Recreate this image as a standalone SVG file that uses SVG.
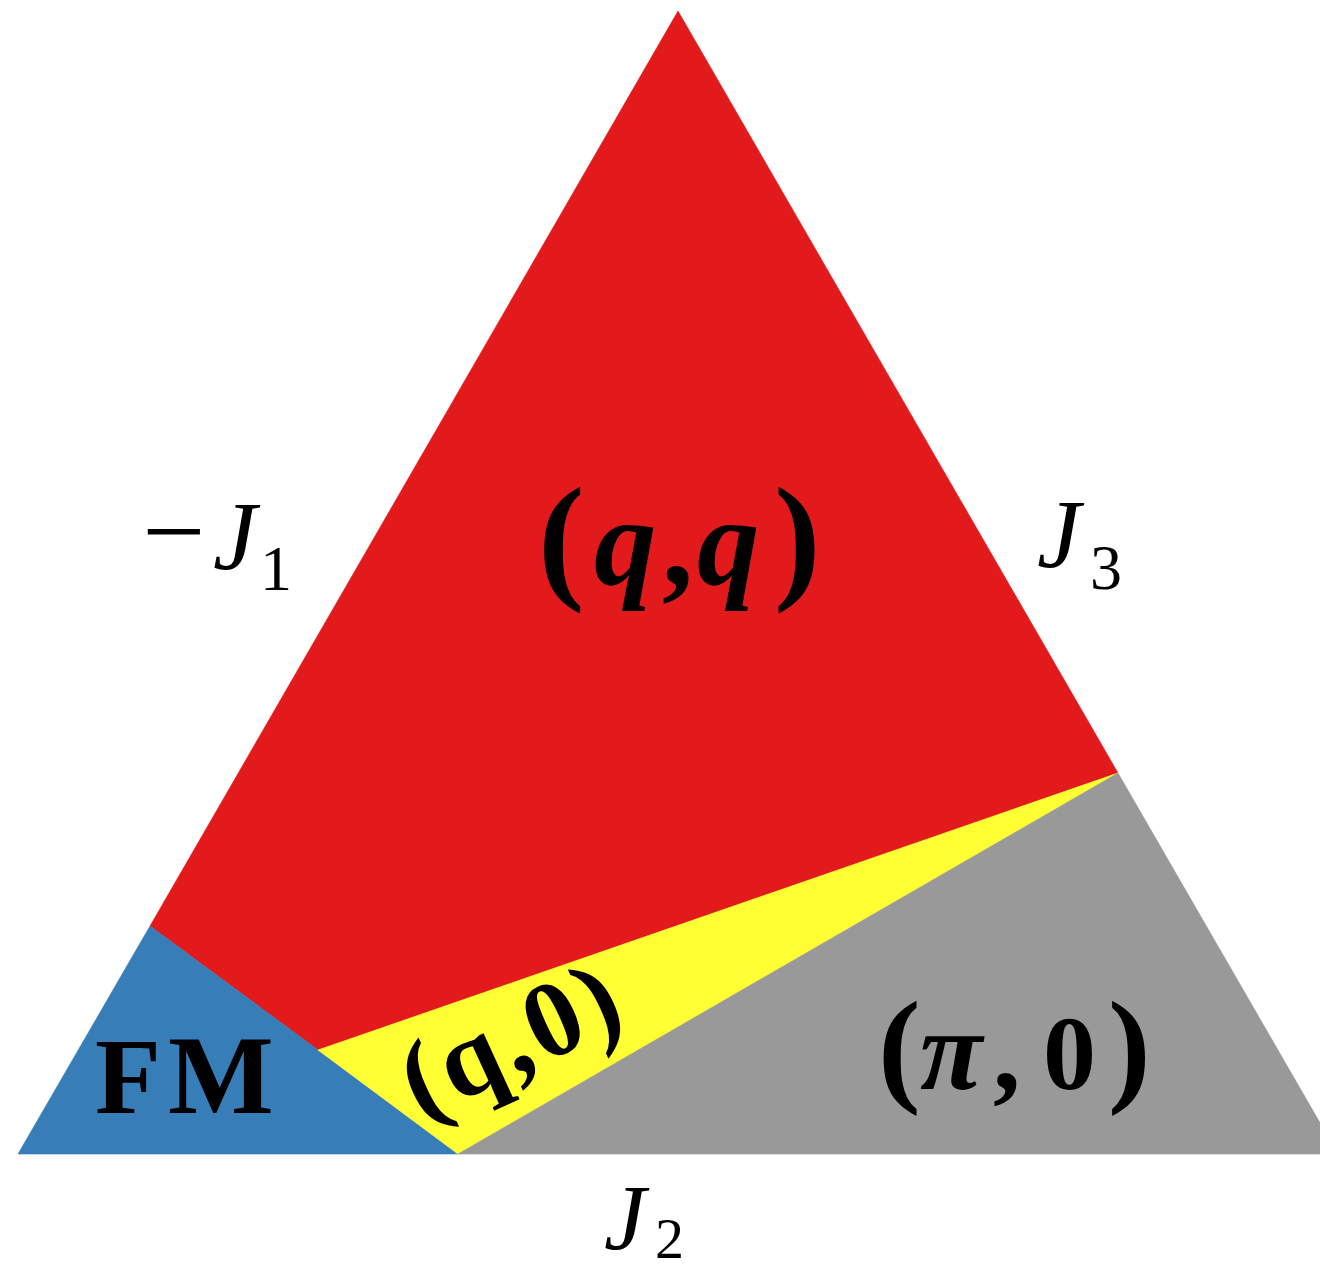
<svg xmlns="http://www.w3.org/2000/svg" width="1320" height="1272" viewBox="0 0 1320 1272">
<style>
.reg{stroke-width:0.6;stroke-linejoin:round}
.lbl{font-family:"Liberation Serif","DejaVu Serif",serif;fill:#000}
.b{font-weight:bold}
.i{font-style:italic}
</style>
<rect width="1320" height="1272" fill="#ffffff"/>
<g id="regions">
<g id="region-qq"><polygon class="reg" points="678,11 1118,773 318,1050 150,926" fill="#e31a1c" stroke="#e31a1c"/></g>
<g id="region-fm"><polygon class="reg" points="150,926 318,1050 458,1154 18,1154" fill="#377eb8" stroke="#377eb8"/></g>
<g id="region-q0"><polygon class="reg" points="318,1050 1118,773 458,1154" fill="#ffff33" stroke="#ffff33"/></g>
<g id="region-pi0"><polygon class="reg" points="458,1154 1118,773 1338,1154" fill="#999999" stroke="#999999"/></g>
</g>
<g id="connectors"></g>
<g id="labels">
<g id="label-qq"><text class="lbl b" y="584"><tspan x="538" font-size="140">(</tspan><tspan x="594" class="i" font-size="125">q</tspan><tspan x="662" font-size="125">,</tspan><tspan x="697" class="i" font-size="125">q</tspan><tspan x="774" font-size="140">)</tspan></text></g>
<g id="label-fm"><text class="lbl b" y="1113" font-size="108"><tspan x="95">F</tspan><tspan x="168" font-size="112">M</tspan></text></g>
<g id="label-pi0"><text class="lbl b" y="1089"><tspan x="878" font-size="128">(</tspan><tspan x="920" class="i" font-size="114">π</tspan><tspan x="993" font-size="110">,</tspan><tspan x="1043" font-size="106">0</tspan><tspan x="1108" font-size="128">)</tspan></text></g>
<g id="label-q0"><text class="lbl b" transform="translate(526,1071) rotate(-24.5)" text-anchor="middle" font-size="108" letter-spacing="4">(q,0)</text></g>
<g id="label-j1"><text class="lbl" y="569" font-size="98"><tspan x="142" font-size="112">−</tspan><tspan x="213" class="i">J</tspan><tspan x="260" y="590" font-size="64">1</tspan></text></g>
<g id="label-j3"><text class="lbl" y="567" font-size="98"><tspan x="1037" class="i">J</tspan><tspan x="1090" y="589" font-size="64">3</tspan></text></g>
<g id="label-j2"><text class="lbl" y="1249" font-size="94"><tspan x="604" class="i">J</tspan><tspan x="655" y="1258" font-size="58">2</tspan></text></g>
</g>
</svg>
